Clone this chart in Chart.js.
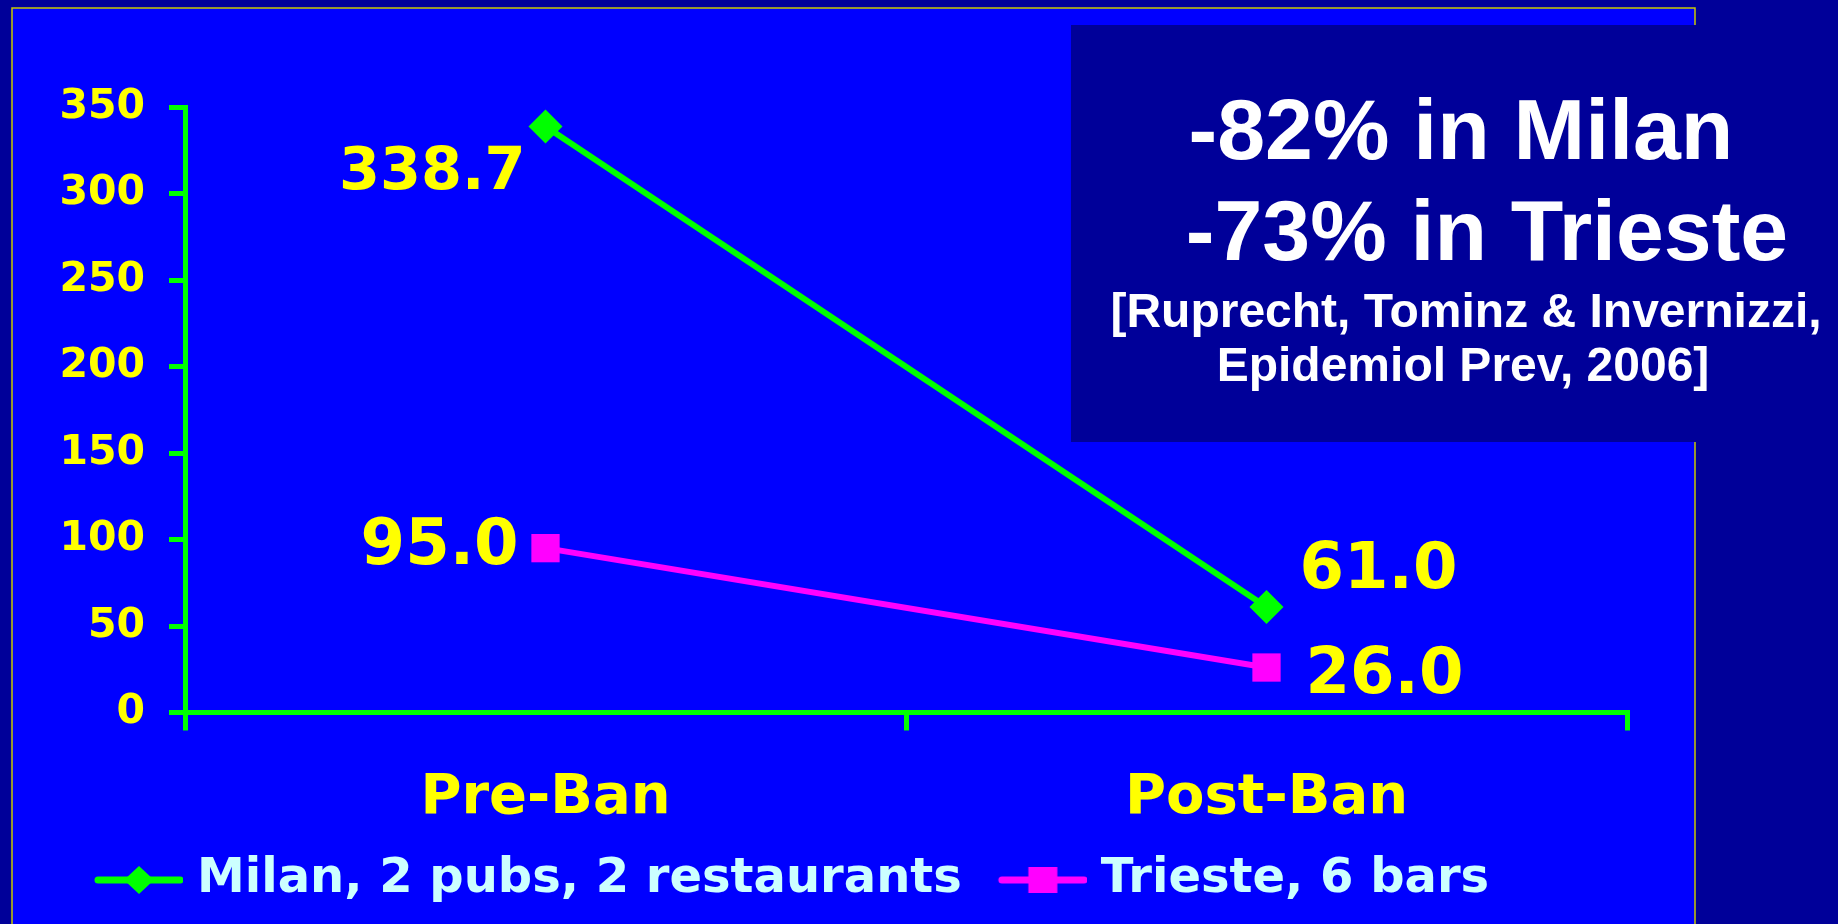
<!DOCTYPE html>
<html>
<head>
<meta charset="utf-8">
<script src="https://cdn.jsdelivr.net/npm/chart.js@4.4.0/dist/chart.umd.min.js"></script>
<style>
  html, body { margin: 0; padding: 0; background: #000099; overflow: hidden; }
  #wrap { width: 1838px; height: 924px; }
</style>
</head>
<body>
<div id="wrap"><canvas id="chart"></canvas></div>
<script>
// data
const periods = ["Pre-Ban", "Post-Ban"];
const milan = [338.7, 61.0];
const trieste = [95.0, 26.0];
const seriesNames = ["Milan, 2 pubs, 2 restaurants", "Trieste, 6 bars"];
const yTicks = [0, 50, 100, 150, 200, 250, 300, 350];
const noteLines = ["-82% in Milan", "-73% in Trieste", "[Ruprecht, Tominz & Invernizzi,", "Epidemiol Prev, 2006]"];

const GREEN = "#00ff00", PINK = "#ff00ff", YELLOW = "#ffff00";
const CHART_FONT = "'DejaVu Sans', sans-serif";
const NOTE_FONT = "'Liberation Sans', Arial, sans-serif";

// legend swatch: line with the marker on it (transparent margin on the left)
function legendIcon(color, shape) {
    const c = document.createElement("canvas");
    c.width = 125; c.height = 32;
    const g = c.getContext("2d");
    g.strokeStyle = color; g.lineWidth = 7; g.lineCap = "round";
    g.beginPath(); g.moveTo(40, 16); g.lineTo(122, 16); g.stroke();
    g.fillStyle = color;
    const cx = 81, cy = 16;
    if (shape === "diamond") {
        g.beginPath();
        g.moveTo(cx - 15, cy); g.lineTo(cx, cy - 14); g.lineTo(cx + 15, cy); g.lineTo(cx, cy + 14);
        g.closePath(); g.fill();
    } else {
        g.fillRect(cx - 14.5, cy - 13, 29, 26);
    }
    return c;
}
const icons = [legendIcon(GREEN, "diamond"), legendIcon(PINK, "square")];

// slide background, plot panel and the note box
const slide = {
    id: "slide",
    beforeDraw(chart) {
        const ctx = chart.ctx;
        ctx.save();
        ctx.fillStyle = "#000099";
        ctx.fillRect(0, 0, chart.width, chart.height);
        ctx.fillStyle = "#0000ff";
        ctx.fillRect(12, 8, 1683, 930);
        ctx.strokeStyle = "#c8c800";
        ctx.lineWidth = 1.5;
        ctx.strokeRect(12, 8, 1683, 930);
        ctx.fillStyle = "#000099";
        ctx.fillRect(1071, 25, 800, 417);

        ctx.fillStyle = "#ffffff";
        ctx.textAlign = "center";
        ctx.textBaseline = "alphabetic";
        const spots = [[1461, 159, 86], [1487, 260, 86], [1466, 327, 48], [1463, 381, 48]];
        noteLines.forEach((t, i) => {
            ctx.font = "bold " + spots[i][2] + "px " + NOTE_FONT;
            ctx.fillText(t, spots[i][0], spots[i][1]);
        });
        ctx.restore();
    }
};

// value labels next to each marker
const labelSpots = [
    [{dx: -20, dy: 62, align: "right", size: 59}, {dx: 33, dy: -19, align: "left", size: 64}],
    [{dx: -27, dy: 16, align: "right", size: 64}, {dx: 39, dy: 25, align: "left", size: 64}]
];
const valueLabels = {
    id: "valueLabels",
    afterDatasetsDraw(chart) {
        const ctx = chart.ctx;
        ctx.save();
        ctx.fillStyle = YELLOW;
        ctx.textBaseline = "alphabetic";
        chart.data.datasets.forEach((ds, i) => {
            chart.getDatasetMeta(i).data.forEach((pt, j) => {
                const s = labelSpots[i][j];
                ctx.font = "bold " + s.size + "px " + CHART_FONT;
                ctx.textAlign = s.align;
                ctx.fillText(ds.data[j].toFixed(1), pt.x + s.dx, pt.y + s.dy);
            });
        });
        ctx.restore();
    }
};

const ctx = document.getElementById("chart").getContext("2d");
new Chart(ctx, {
    type: "line",
    data: {
        labels: periods,
        datasets: [{
            label: seriesNames[0],
            data: milan,
            borderColor: GREEN,
            backgroundColor: GREEN,
            borderWidth: 6,
            pointStyle: "rectRot",
            pointRadius: 17,
            pointBorderWidth: 0,
            pointBackgroundColor: GREEN,
            clip: false
        }, {
            label: seriesNames[1],
            data: trieste,
            borderColor: PINK,
            backgroundColor: PINK,
            borderWidth: 6,
            pointStyle: "rect",
            pointRadius: 20,
            pointBorderWidth: 0,
            pointBackgroundColor: PINK,
            clip: false
        }]
    },
    options: {
        responsive: true,
        maintainAspectRatio: false,
        animation: false,
        layout: { padding: { top: 107, left: 58, right: 211, bottom: 10 } },
        plugins: {
            tooltip: { enabled: false },
            legend: {
                position: "bottom",
                align: "start",
                labels: {
                    usePointStyle: true,
                    pointStyleWidth: 105,
                    padding: 10,
                    color: "#ccffff",
                    font: { family: CHART_FONT, size: 48, weight: "bold" },
                    generateLabels(chart) {
                        const items = Chart.defaults.plugins.legend.labels.generateLabels(chart);
                        items.forEach((it, i) => { it.pointStyle = icons[i]; });
                        return items;
                    }
                }
            }
        },
        scales: {
            x: {
                offset: true,
                grid: {
                    display: true, drawOnChartArea: false, drawTicks: true, offset: true,
                    tickLength: 18, color: GREEN, lineWidth: 5
                },
                border: { display: true, color: GREEN, width: 5 },
                ticks: {
                    color: YELLOW, padding: 34, maxRotation: 0,
                    font: { family: CHART_FONT, size: 56, weight: "bold", lineHeight: 1.2 }
                },
                afterFit(s) { s.height = 133.5; }
            },
            y: {
                min: yTicks[0],
                max: yTicks[yTicks.length - 1],
                grid: { drawOnChartArea: false, tickLength: 16, color: GREEN, lineWidth: 5 },
                border: { display: true, color: GREEN, width: 5 },
                ticks: {
                    stepSize: yTicks[1] - yTicks[0],
                    color: YELLOW, padding: 24,
                    font: { family: CHART_FONT, size: 41, weight: "bold" }
                },
                afterFit(s) { s.width = 127; }
            }
        }
    },
    plugins: [slide, valueLabels]
});
</script>
</body>
</html>
